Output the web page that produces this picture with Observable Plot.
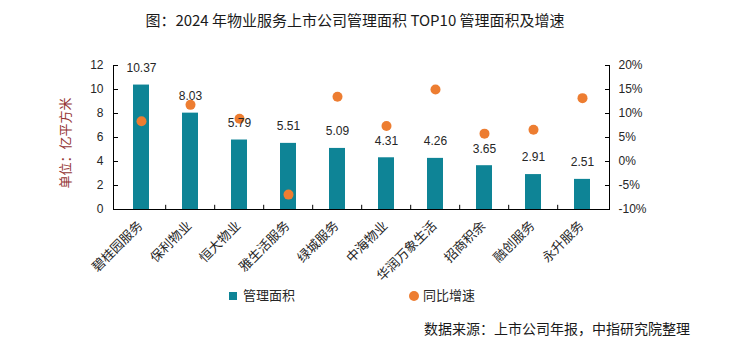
<!DOCTYPE html>
<html><head><meta charset="utf-8">
<script src="https://cdn.jsdelivr.net/npm/d3@7"></script>
<script src="https://cdn.jsdelivr.net/npm/@observablehq/plot@0.6"></script>
<style>
body{margin:0;background:#fff;}
#wrap{position:relative;width:731px;height:352px;overflow:hidden;font-family:"Noto Sans CJK SC","Liberation Sans",sans-serif;color:#222;}
#wrap svg{position:absolute;left:0;top:0;}
.abs{position:absolute;white-space:nowrap;line-height:1;}
</style></head>
<body><div id="wrap"></div>
<script>
const companies = ["碧桂园服务","保利物业","恒大物业","雅生活服务","绿城服务","中海物业","华润万象生活","招商积余","融创服务","永升服务"];
const area = [10.37, 8.03, 5.79, 5.51, 5.09, 4.31, 4.26, 3.65, 2.91, 2.51];
const growth = [8.4, 11.8, 8.9, -6.9, 13.5, 7.4, 15.0, 5.8, 6.6, 13.2];
const leftTicks = [0, 2, 4, 6, 8, 10, 12];
const pctTicks = [-10, -5, 0, 5, 10, 15, 20];
const titleText = "图：2024 年物业服务上市公司管理面积 TOP10 管理面积及增速";
const yTitle = "单位：亿平方米";
const legendNames = ["管理面积", "同比增速"];
const sourceText = "数据来源：上市公司年报，中指研究院整理";

const teal = "#0E8496", orange = "#ED7D31";
const W = 731, H = 352, mL = 113, mR = 122, mT = 65, mB = 143;
const padInner = 0.68;
const step = (W - mL - mR) / companies.length;
// map percent onto left scale: -10% -> 0, 20% -> 12
const toLeft = p => (p - pctTicks[0]) / (pctTicks[pctTicks.length-1] - pctTicks[0]) * leftTicks[leftTicks.length-1];
const fromLeft = v => v / leftTicks[leftTicks.length-1] * (pctTicks[pctTicks.length-1] - pctTicks[0]) + pctTicks[0];

const data = companies.map((c, i) => ({c, a: area[i], g: growth[i]}));

const chart = Plot.plot({
  width: W, height: H,
  marginLeft: mL, marginRight: mR, marginTop: mT, marginBottom: mB,
  style: {fontFamily: '"Liberation Sans","Noto Sans CJK SC",sans-serif', fontSize: "12px", color: "#262626", background: "transparent"},
  x: {domain: companies, paddingInner: padInner, paddingOuter: padInner/2, label: null},
  y: {domain: [0, 12], label: null},
  marks: [
    Plot.barY(data, {x: "c", y: "a", fill: teal}),
    Plot.dot(data, {x: "c", y: d => toLeft(d.g), r: 5, fill: orange}),
    Plot.text(data, {x: "c", y: "a", text: d => d.a.toFixed(2), dy: -17, fontSize: 12, fill: "#262626"}),
    Plot.ruleY([0], {stroke: "#000"}),
    Plot.ruleX(companies.slice(1), {x: d => d, dx: -step/2, y1: 0, y2: 0.35, stroke: "#000"}),
    Plot.frame({anchor: "left", stroke: "#000"}),
    Plot.frame({anchor: "right", stroke: "#000"}),
    Plot.axisY({anchor: "left", ticks: leftTicks, tickSize: -5, tickPadding: 15, fontSize: 12, label: null, stroke: "#000"}),
    Plot.axisY({anchor: "right", ticks: pctTicks.map(toLeft), tickFormat: v => `${Math.round(fromLeft(v))}%`, tickSize: -5, tickPadding: 14, fontSize: 12, label: null, stroke: "#000"}),
    Plot.axisX({tickSize: 0, tickRotate: -45, tickPadding: 14, dx: -1, fontSize: 13, label: null, fontFamily: '"Noto Sans CJK SC",sans-serif'})
  ]
});
const wrap = document.getElementById("wrap");
wrap.appendChild(chart);

function addDiv(html, css) {
  const d = document.createElement("div");
  d.className = "abs";
  d.innerHTML = html;
  Object.assign(d.style, css);
  wrap.appendChild(d);
  return d;
}
addDiv(titleText, {left: "355px", top: "12px", transform: "translateX(-50%)", fontSize: "15px", color: "#1a1a1a"});
addDiv(yTitle, {left: "64px", top: "143px", transform: "translate(-50%,-50%) rotate(-90deg)", fontSize: "13px", color: "#943634"});
addDiv(`<span style="display:inline-block;width:8px;height:8px;background:${teal};margin-right:6px;vertical-align:0px"></span>${legendNames[0]}`, {left: "229px", top: "288px", fontSize: "13px", color: "#262626"});
addDiv(`<span style="display:inline-block;width:10px;height:10px;border-radius:50%;background:${orange};margin-right:4px;vertical-align:-1px"></span>${legendNames[1]}`, {left: "409px", top: "288px", fontSize: "13px", color: "#262626"});
addDiv(sourceText, {left: "424px", top: "321px", fontSize: "14px", color: "#1a1a1a"});
</script></body></html>
